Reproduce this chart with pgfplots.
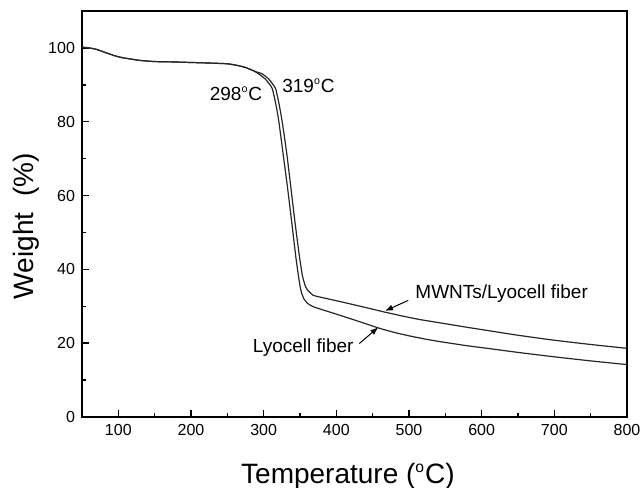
\documentclass[border=0pt]{standalone}
\usepackage{fontspec}
\setmainfont{Liberation Sans}
\usepackage{pgfplots}
\pgfplotsset{compat=1.18}
\usetikzlibrary{arrows.meta}

% TGA curves
\pgfplotstableread{
T     w
50    100.2
60    100.0
70    99.6
80    98.9
90    98.2
100   97.6
110   97.2
120   96.9
130   96.6
150   96.3
175   96.2
200   96.05
225   95.9
250   95.7
265   95.2
275   94.7
285   93.9
293   93.0
302   91.6
308   90.2
312   88.9
317   84.5
321   79.9
327   70.9
333   61.9
338.6 52.8
344   43.8
347.7 38.4
350.5 35.0
352.5 33.4
356   31.8
361   30.7
368   29.9
377   29.3
398   28.0
420   26.6
440   25.3
460   24.0
480   22.9
500   22.0
520   21.2
540   20.5
560   19.9
580   19.3
606   18.65
650   17.5
698   16.35
750   15.2
800   14.2
}\lyocell

\pgfplotstableread{
T     w
50    100.2
60    100.0
70    99.6
80    98.9
90    98.2
100   97.6
110   97.2
120   96.9
130   96.6
150   96.3
175   96.2
200   96.05
225   95.9
250   95.7
265   95.2
275   94.7
285   93.9
290   93.5
297.7 93.0
306.9 91.6
312   90.3
316.6 88.9
321   85.0
325.6 79.9
332.1 70.9
337.6 61.9
343.1 52.8
349   43.8
353.2 38.4
356.9 35.7
360   34.5
368   33.0
377.5 32.5
398   31.6
420   30.6
446   29.4
467   28.4
490   27.4
515   26.4
540   25.6
560   24.95
580   24.3
606   23.5
650   22.15
698   20.85
750   19.65
800   18.6
}\mwnt

\begin{document}
\begin{tikzpicture}
\begin{axis}[
  scale only axis, width=272.5pt, height=203pt,
  xmin=50, xmax=800, ymin=0, ymax=110,
  xtick={100,200,...,800}, ytick={0,20,...,100},
  minor x tick num=1, minor y tick num=1,
  tick pos=left, tick align=inside,
  major tick length=3.5pt, minor tick length=2pt,
  axis line style={line width=0.9pt},
  every tick/.style={line width=0.7pt, black},
  tick label style={font=\fontsize{8}{9}\selectfont},
  /pgf/number format/assume math mode=true,
  xlabel={Temperature (\textsuperscript{\scalebox{0.8}{o}}C)},
  ylabel={Weight\ \ (\%)},
  label style={font=\fontsize{14}{16}\selectfont},
  xlabel style={at={(axis description cs:0.488,-0.163)}, anchor=base},
  ylabel style={at={(axis description cs:-0.1015,0.47)}, anchor=center},
  clip=false,
]
\addplot[line width=0.6pt, black!85, smooth, tension=0.3] table[x=T, y=w] {\lyocell};
\addplot[line width=0.6pt, black!85, smooth, tension=0.3] table[x=T, y=w] {\mwnt};

\node[font=\fontsize{9.5}{11}\selectfont] at (axis cs:261.9,87.6) {298\textsuperscript{\scalebox{0.8}{o}}C};
\node[font=\fontsize{9.5}{11}\selectfont] at (axis cs:361.7,89.8) {319\textsuperscript{\scalebox{0.8}{o}}C};
\node[font=\fontsize{9.5}{11}\selectfont, anchor=west, inner sep=0pt] at (axis cs:508.3,33.5) {MWNTs/Lyocell fiber};
\node[font=\fontsize{9.5}{11}\selectfont, anchor=east, inner sep=0pt] at (axis cs:424.3,18.7) {Lyocell fiber};
\draw[-{Latex[length=4pt,width=3pt]}, line width=0.5pt] (axis cs:499,31.6) -- (axis cs:467,28.75);
\draw[-{Latex[length=4pt,width=3pt]}, line width=0.5pt] (axis cs:431.6,19.9) -- (axis cs:457.7,24.3);
\end{axis}
\pgfresetboundingbox
\path[use as bounding box] ([xshift=-41pt,yshift=-35pt]current axis.south west) rectangle ++(320pt,243.5pt);
\end{tikzpicture}
\end{document}
